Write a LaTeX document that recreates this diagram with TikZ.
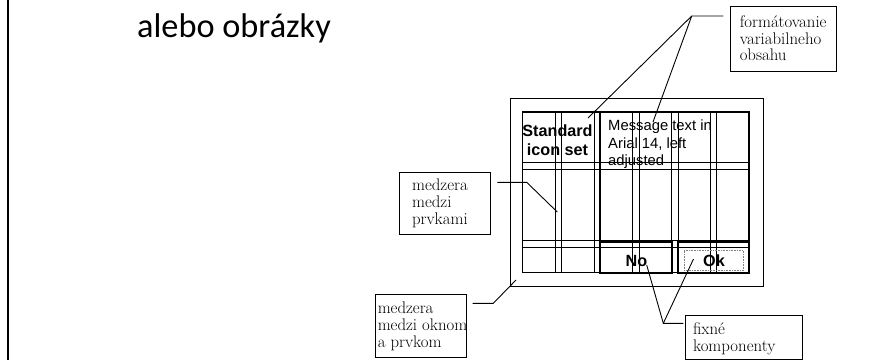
\documentclass[tikz,border=0pt]{standalone}
\usepackage{fontspec}
\newfontfamily\titlefont{Carlito}
\newfontfamily\arial{Liberation Sans}
\begin{document}
\begin{tikzpicture}[x=1pt,y=-1pt,
  thinline/.style={line width=0.8pt,black},
  thickline/.style={line width=1.7pt,black},
  callbox/.style={draw,line width=0.9pt,inner sep=0pt,minimum width=#1},
  calltext/.style={anchor=west,align=left,inner sep=0pt,font=\fontsize{16.8}{16.6}\selectfont},
  uitext/.style={inner sep=0pt,font=\arial\fontsize{14.8}{17.4}\selectfont},
  uibold/.style={inner sep=0pt,font=\arial\bfseries\fontsize{16.2}{18.3}\selectfont},
  leader/.style={line width=0.9pt,black}]
\useasboundingbox (0,0) rectangle (892,360);
\fill[white] (0,0) rectangle (892,360);
% left slide edge
\draw[line width=1.2pt] (8,0) -- (8,360);
% title
\node[anchor=base west,inner sep=0pt,font=\titlefont\fontsize{34.3}{36}\selectfont] (title) at (137,37) {alebo obrázky};

% ---- dialog mock-up ----
\draw[thinline] (510,98) rectangle (763,286);
\draw[thinline] (522.7,111.7) rectangle (749,272.7);
\foreach \xx in {555,561.7,594.3,632.7,639,671.7,678.3,710.7,716.7}
  \draw[thinline] (\xx,111.7) -- (\xx,272.7);
\foreach \yy in {162.7,169.5,240.7,247.3}
  \draw[thinline] (522.7,\yy) -- (749,\yy);
\draw[thickline] (522.7,111.7) -- (749,111.7);
\draw[thickline] (600,111.7) -- (600,272.7);
\draw[line width=1.3pt] (749,111.7) -- (749,272.7);
\draw[thickline] (600,241.7) rectangle (671.7,272.7);
\draw[thickline] (678.3,241.7) rectangle (749,272.7);
\draw[line width=0.6pt,densely dotted,gray] (684.3,250.7) rectangle (743.3,270.3);

\node[uibold,align=center,anchor=base] (icon) at (557.5,155) {Standard\\icon set};
\node[uitext,align=left,anchor=base west] (msg) at (608,165.5) {Message text in\\Arial 14, left\\adjusted};
\node[uibold,anchor=base] (no) at (636.5,266.7) {No};
\node[uibold,anchor=base] (ok) at (714,266.7) {Ok};

% ---- callouts ----
\node[callbox=106pt,minimum height=65pt] (fmt) at (783,38.5) {};
\draw[line width=1.8pt] (fmt.north east) -- (fmt.south east) -- (fmt.south west);
\node[calltext] (fmttext) at ([xshift=10pt]fmt.west) {formátovanie\\variabilneho\\obsahu};

\node[callbox=91.4pt,minimum height=62pt] (gap1) at (445,203.3) {};
\node[calltext] (gap1text) at ([xshift=13pt]gap1.west) {medzera\\medzi\\prvkami};

\node[callbox=91pt,minimum height=63.3pt] (gap2) at (420.5,325.7) {};
\node[calltext] (gap2text) at ([xshift=3pt,yshift=-0.5pt]gap2.west) {medzera\\medzi oknom\\a prvkom};

\node[callbox=117pt,minimum height=44.3pt] (fix) at (744.2,337.2) {};
\node[calltext] (fixtext) at ([xshift=7.6pt,yshift=-1.8pt]fix.west) {fixné\\komponenty};

% ---- leader lines ----
\coordinate (fmtA) at (723.3,16);
\coordinate (fmtB) at (691.7,16);
\coordinate (tIcon) at (588,118);
\coordinate (tMsg) at (653,122);
\draw[leader] (fmtA) -- (fmtB) -- (tIcon);
\draw[leader] (fmtB) -- (tMsg);

\coordinate (g1A) at (497.3,182.3);
\coordinate (g1B) at (526.7,182.3);
\coordinate (g1T) at (557.3,212);
\draw[leader] (g1A) -- (g1B) -- (g1T);

\coordinate (g2A) at (472.7,303.3);
\coordinate (g2B) at (493.3,303.3);
\coordinate (g2T) at (516,280);
\draw[leader] (g2A) -- (g2B) -- (g2T);

\coordinate (fxA) at (683.3,323.3);
\coordinate (fxB) at (663.3,323.3);
\coordinate (fxNo) at (646.7,265);
\coordinate (fxOk) at (693.5,259);
\draw[leader] (fxA) -- (fxB) -- (fxNo);
\draw[leader] (fxB) -- (fxOk);
\end{tikzpicture}
\end{document}
